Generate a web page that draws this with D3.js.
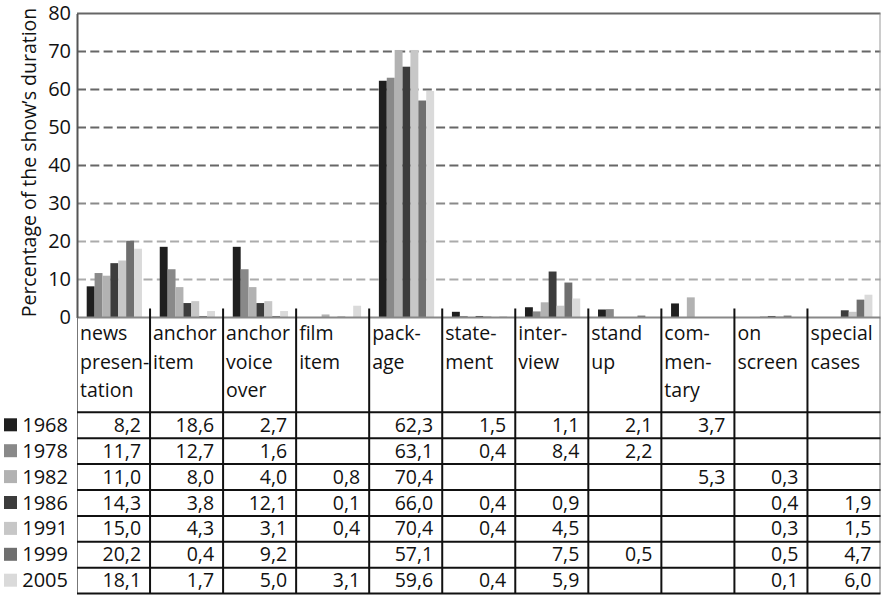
<!DOCTYPE html>
<html>
<head>
<meta charset="utf-8">
<script src="https://cdn.jsdelivr.net/npm/d3@7"></script>
<style>
  html, body { margin: 0; padding: 0; background: #fff; }
  svg { display: block; }
  text { font-family: "Open Sans", "Noto Sans", sans-serif; fill: #111; }
</style>
</head>
<body>
<svg id="chart" width="881" height="595"></svg>
<script>
// ---------- DATA ----------
const categories = ["news presentation", "anchor item", "anchor voice over", "film item", "package",
  "statement", "interview", "stand up", "commentary", "on screen", "special cases"];
const headerLines = [["news", "presen-", "tation"], ["anchor", "item"], ["anchor", "voice", "over"],
  ["film", "item"], ["pack-", "age"], ["state-", "ment"], ["inter-", "view"], ["stand", "up"],
  ["com-", "men-", "tary"], ["on", "screen"], ["special", "cases"]];
const years = ["1968", "1978", "1982", "1986", "1991", "1999", "2005"];

// bar heights as drawn in the chart
const bars1968 = [8.2, 18.6, 18.6, 0, 62.3, 1.5, 2.7, 2.1, 3.7, 0, 0];
const bars1978 = [11.7, 12.7, 12.7, 0, 63.1, 0.4, 1.6, 2.2, 0, 0, 0];
const bars1982 = [11.0, 8.0, 8.0, 0.8, 70.4, 0, 4.0, 0, 5.3, 0.3, 0];
const bars1986 = [14.3, 3.8, 3.8, 0.1, 66.0, 0.4, 12.1, 0, 0, 0.4, 1.9];
const bars1991 = [15.0, 4.3, 4.3, 0.4, 70.4, 0.4, 3.1, 0, 0, 0.3, 1.5];
const bars1999 = [20.2, 0.4, 0.4, 0, 57.1, 0, 9.2, 0.5, 0, 0.5, 4.7];
const bars2005 = [18.1, 1.7, 1.7, 3.1, 59.6, 0.4, 5.0, 0, 0, 0.1, 6.0];

// values printed in the table
const table1968 = ["8,2", "18,6", "2,7", "", "62,3", "1,5", "1,1", "2,1", "3,7", "", ""];
const table1978 = ["11,7", "12,7", "1,6", "", "63,1", "0,4", "8,4", "2,2", "", "", ""];
const table1982 = ["11,0", "8,0", "4,0", "0,8", "70,4", "", "", "", "5,3", "0,3", ""];
const table1986 = ["14,3", "3,8", "12,1", "0,1", "66,0", "0,4", "0,9", "", "", "0,4", "1,9"];
const table1991 = ["15,0", "4,3", "3,1", "0,4", "70,4", "0,4", "4,5", "", "", "0,3", "1,5"];
const table1999 = ["20,2", "0,4", "9,2", "", "57,1", "", "7,5", "0,5", "", "0,5", "4,7"];
const table2005 = ["18,1", "1,7", "5,0", "3,1", "59,6", "0,4", "5,9", "", "", "0,1", "6,0"];

const yTicks = [0, 10, 20, 30, 40, 50, 60, 70, 80];
const yLabel = "Percentage of the show’s duration";
const colors = ["#1f1f1f", "#898989", "#b2b2b2", "#3c3c3c", "#c7c7c7", "#6f6f6f", "#dadada"];

const barSeries = [bars1968, bars1978, bars1982, bars1986, bars1991, bars1999, bars2005];
const tableRows = [table1968, table1978, table1982, table1986, table1991, table1999, table2005];

// ---------- LAYOUT ----------
const svg = d3.select("#chart");
const plotLeft = 77, plotRight = 880.5;
const yTop = 13.5, yBottom = 317.5;
const headerBottom = 412.3, rowH = 25.9;
const fs = 19.5;

const x = d3.scaleBand().domain(categories).range([plotLeft, plotRight]).paddingInner(0).paddingOuter(0);
const xi = d3.scaleBand().domain(years).range([9.7, x.bandwidth() - 8.1]).padding(0);
const y = d3.scaleLinear().domain([0, 80]).range([yBottom, yTop]);

// gridlines
const gridColor = v => v >= 40 ? "#676767" : (v === 30 ? "#8a8a8a" : "#ababab");
svg.append("g").selectAll("line")
  .data(yTicks.filter(v => v > 0 && v < 80))
  .join("line")
  .attr("x1", plotLeft).attr("x2", plotRight)
  .attr("y1", d => y(d)).attr("y2", d => y(d))
  .attr("stroke", d => gridColor(d)).attr("stroke-width", 2)
  .attr("stroke-dasharray", "9,4.3");

// bars
const groups = svg.append("g").selectAll("g")
  .data(years)
  .join("g")
  .attr("fill", (d, i) => colors[i]);
groups.selectAll("rect")
  .data((yr, i) => categories.map((c, j) => ({ c, v: barSeries[i][j], yr })))
  .join("rect")
  .filter(d => d.v > 0)
  .attr("x", d => x(d.c) + xi(d.yr))
  .attr("width", xi.bandwidth())
  .attr("y", d => y(d.v))
  .attr("height", d => yBottom - y(d.v));

// frame: top, right, left axis, bottom axis
svg.append("line").attr("x1", plotLeft).attr("x2", plotRight).attr("y1", yTop).attr("y2", yTop)
  .attr("stroke", "#666").attr("stroke-width", 2);
svg.append("line").attr("x1", plotRight - 0.5).attr("x2", plotRight - 0.5).attr("y1", yTop).attr("y2", yBottom)
  .attr("stroke", "#999").attr("stroke-width", 1);
svg.append("line").attr("x1", plotLeft).attr("x2", plotRight).attr("y1", yBottom).attr("y2", yBottom)
  .attr("stroke", "#888").attr("stroke-width", 2);

// y axis
const yAxis = d3.axisLeft(y).tickValues(yTicks).tickSize(0).tickPadding(6);
const ya = svg.append("g").attr("transform", `translate(${plotLeft},0)`).call(yAxis);
ya.select(".domain").attr("stroke", "#555").attr("stroke-width", 2);
ya.selectAll("text").attr("font-size", 20).attr("fill", "#111")
  .attr("font-family", '"Open Sans", sans-serif');

svg.append("text")
  .attr("transform", `translate(36,${(yTop + yBottom) / 2 - 3}) rotate(-90)`)
  .attr("text-anchor", "middle")
  .attr("font-size", 19.5)
  .text(yLabel);

// ---------- TABLE ----------
const tableBottom = headerBottom + rowH * years.length;
const boundaries = categories.slice(1).map(c => x(c));

// column separators
svg.append("g").selectAll("line")
  .data(boundaries)
  .join("line")
  .attr("x1", d => d).attr("x2", d => d)
  .attr("y1", yBottom - 9).attr("y2", tableBottom)
  .attr("stroke", "#111").attr("stroke-width", 2);
svg.append("line").attr("x1", plotLeft + 0.5).attr("x2", plotLeft + 0.5)
  .attr("y1", yBottom).attr("y2", tableBottom)
  .attr("stroke", "#777").attr("stroke-width", 1);
svg.append("line").attr("x1", plotRight - 0.5).attr("x2", plotRight - 0.5)
  .attr("y1", yBottom).attr("y2", tableBottom)
  .attr("stroke", "#777").attr("stroke-width", 1);

// row separators
svg.append("g").selectAll("line")
  .data(d3.range(years.length + 1))
  .join("line")
  .attr("x1", plotLeft).attr("x2", plotRight)
  .attr("y1", i => headerBottom + i * rowH).attr("y2", i => headerBottom + i * rowH)
  .attr("stroke", "#111").attr("stroke-width", 2);

// header text
const hdr = svg.append("g").selectAll("text")
  .data(categories)
  .join("text")
  .attr("font-size", fs)
  .attr("x", d => x(d) + 3);
hdr.selectAll("tspan")
  .data((d, j) => headerLines[j])
  .join("tspan")
  .attr("x", function () { return d3.select(this.parentNode).attr("x"); })
  .attr("y", (d, k) => 340 + k * 28.5)
  .text(d => d);

// data cells
years.forEach((yr, i) => {
  const base = headerBottom + i * rowH + 19.5;
  svg.append("g").selectAll("text")
    .data(categories.map((c, j) => ({ c, t: tableRows[i][j] })).filter(d => d.t !== ""))
    .join("text")
    .attr("font-size", fs)
    .attr("text-anchor", "end")
    .attr("x", d => x(d.c) + x.bandwidth() - 9)
    .attr("y", base)
    .text(d => d.t);
  // legend
  svg.append("rect").attr("x", 4).attr("y", base - 13.5).attr("width", 13).attr("height", 13)
    .attr("fill", colors[i]);
  svg.append("text").attr("x", 68).attr("y", base).attr("text-anchor", "end")
    .attr("font-size", 20).text(yr);
});
</script>
</body>
</html>
